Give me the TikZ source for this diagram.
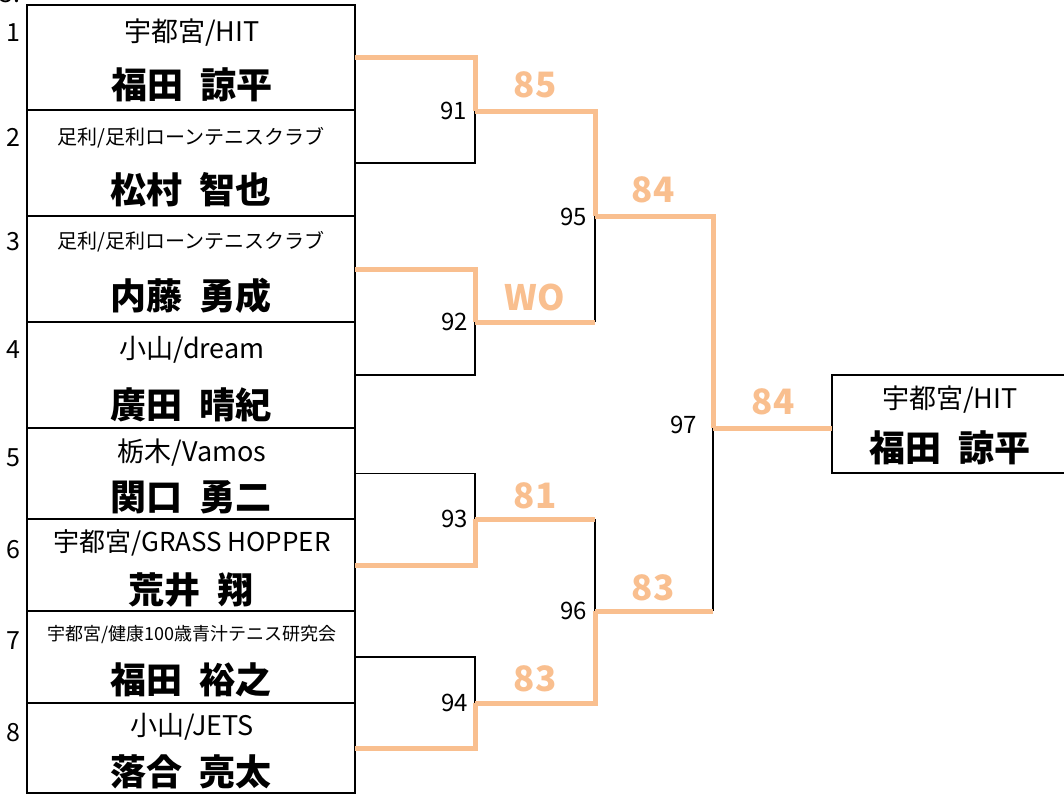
\documentclass[tikz,border=0pt]{standalone}
\usepackage{fontspec}
\setmainfont{Noto Sans CJK JP}
\newcommand\nsp{\hspace{0.45em}}
\begin{document}
\begin{tikzpicture}[x=1pt,y=-1pt,
  pbox/.style={draw=black,line width=1.5pt,minimum width=328pt,inner sep=0pt,outer sep=0pt},
  affil/.style={font=\fontsize{27}{27}\selectfont,inner sep=0pt},
  affilm/.style={font=\fontsize{26}{26}\selectfont,inner sep=0pt},
  affils/.style={font=\fontsize{20}{20}\selectfont,inner sep=0pt},
  affilxs/.style={font=\fontsize{18}{18}\selectfont,inner sep=0pt},
  pname/.style={font=\bfseries\fontsize{36}{36}\selectfont,inner sep=0pt},
  seed/.style={font=\fontsize{25}{25}\selectfont,inner sep=0pt},
  mnum/.style={font=\fontsize{24}{24}\selectfont,inner sep=0pt,anchor=east},
  score/.style={font=\bfseries\fontsize{35}{35}\selectfont,text=orangeline,inner sep=0pt},
  blk/.style={draw=black,line width=1.5pt},
  win/.style={draw=orangeline,line width=5pt}]
\definecolor{orangeline}{RGB}{249,191,143}
\useasboundingbox (0,0) rectangle (1064,795);
\clip (0,0) rectangle (1064,795);
\node[seed] (top) at (10,-6) {3.};
% player boxes
\node[pbox,minimum height=105pt] (r1) at (191,57.5) {};
\node[pbox,minimum height=106pt] (r2) at (191,163) {};
\node[pbox,minimum height=106pt] (r3) at (191,269) {};
\node[pbox,minimum height=106pt] (r4) at (191,375) {};
\node[pbox,minimum height=91pt] (r5) at (191,473.5) {};
\node[pbox,minimum height=92pt] (r6) at (191,565) {};
\node[pbox,minimum height=92pt] (r7) at (191,657) {};
\node[pbox,minimum height=90pt] (r8) at (191,748) {};
% seeds
\node[seed] (s1) at (13,33) {1};
\node[seed] (s2) at (13,137) {2};
\node[seed] (s3) at (13,242) {3};
\node[seed] (s4) at (13,350) {4};
\node[seed] (s5) at (13,458) {5};
\node[seed] (s6) at (13,550) {6};
\node[seed] (s7) at (13,641) {7};
\node[seed] (s8) at (13,733) {8};
% texts
\node[affil] (a1) at (192,33) {宇都宮/HIT};
\node[pname] (n1) at (192,85) {福田\nsp 諒平};
\node[affils] (a2) at (191,138) {足利/足利ローンテニスクラブ};
\node[pname] (n2) at (191,190) {松村\nsp 智也};
\node[affils] (a3) at (191,242) {足利/足利ローンテニスクラブ};
\node[pname] (n3) at (191,296) {内藤\nsp 勇成};
\node[affil] (a4) at (192,350) {小山/dream};
\node[pname] (n4) at (191,405) {廣田\nsp 晴紀};
\node[affil] (a5) at (192,453) {栃木/Vamos};
\node[pname] (n5) at (191,497) {関口\nsp 勇二};
\node[affilm] (a6) at (192,543) {宇都宮/GRASS HOPPER};
\node[pname] (n6) at (191,590) {荒井\nsp 翔};
\node[affilxs] (a7) at (192,635) {宇都宮/健康100歳青汁テニス研究会};
\node[pname] (n7) at (191,680) {福田\nsp 裕之};
\node[affil] (a8) at (192,727) {小山/JETS};
\node[pname] (n8) at (191,772) {落合\nsp 亮太};
% winner box
\node[pbox,minimum width=240pt,minimum height=98pt] (w) at (952,424) {};
\node[affil] (wa) at (950,400) {宇都宮/HIT};
\node[pname] (wn) at (950,448) {福田\nsp 諒平};
% match points
\coordinate (m91) at (475,111);
\coordinate (m92) at (475,322);
\coordinate (m93) at (475,519);
\coordinate (m94) at (475,703);
\coordinate (m95) at (595,216);
\coordinate (m96) at (595,611);
\coordinate (m97) at (713,428);
% black lines
\draw[blk] (r2.east) -| (m91);
\draw[blk] (r4.east) -| (m92);
\draw[blk] (m92 -| m95) -- (m95);
\draw[blk] (r5.east) -| (m93);
\draw[blk] (m93 -| m96) -- (m96);
\draw[blk] (r7.east) -| (m94);
\draw[blk] (m96 -| m97) -- (m97);
% orange lines
\draw[win] (r1.east) -| (m91);
\draw[win] (m91) -| (m95);
\draw[win] (m95) -| (m97);
\draw[win] (m97) -- (m97 -| w.west);
\draw[win] (r3.east) -| (m92);
\draw[win] (m92) -- (m92 -| m95);
\draw[win] (r6.east) -| (m93);
\draw[win] (m93) -- (m93 -| m96);
\draw[win] (r8.east) -| (m94);
\draw[win] (m94) -| (m96);
\draw[win] (m96) -- (m96 -| m97);
% match numbers
\node[mnum] (l91) at (467,111) {91};
\node[mnum] (l92) at (468,322) {92};
\node[mnum] (l93) at (468,519) {93};
\node[mnum] (l94) at (468,703) {94};
\node[mnum] (l95) at (587,217) {95};
\node[mnum] (l96) at (587,611) {96};
\node[mnum] (l97) at (697,425) {97};
% scores
\node[score] (c91) at (535,85) {85};
\node[score] (c92) at (535,297) {WO};
\node[score] (c93) at (535,496) {81};
\node[score] (c94) at (535,679) {83};
\node[score] (c95) at (653,190) {84};
\node[score] (c96) at (653,588) {83};
\node[score] (c97) at (773,402) {84};
\end{tikzpicture}
\end{document}
